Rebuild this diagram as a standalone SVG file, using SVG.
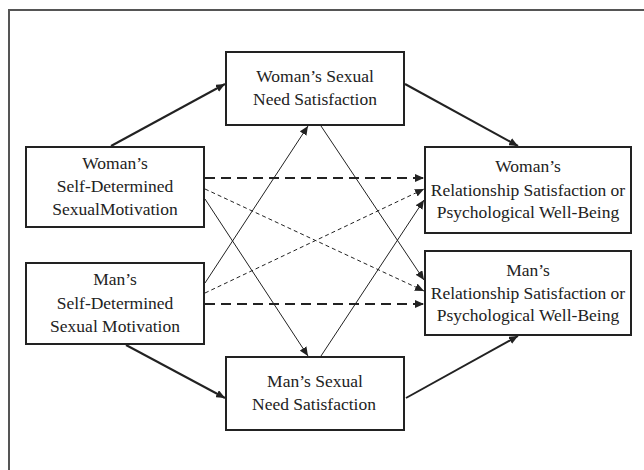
<svg xmlns="http://www.w3.org/2000/svg" width="644" height="470" viewBox="0 0 644 470">
<style>
.box{fill:#fff;stroke:#222;stroke-width:2}
.t{font-family:'Liberation Serif','Times New Roman','Noto Serif','DejaVu Serif',serif;font-size:17.5px;fill:#222;text-anchor:middle}
.thick{stroke:#222;stroke-width:2;fill:none}
.thin{stroke:#222;stroke-width:1;fill:none}
.dthick{stroke:#222;stroke-width:2;fill:none;stroke-dasharray:10 6}
.dthin{stroke:#222;stroke-width:1;fill:none;stroke-dasharray:4 3}
</style>
<defs>
<marker id="ah" markerUnits="userSpaceOnUse" markerWidth="10" markerHeight="8" refX="9" refY="4" orient="auto">
<path d="M0,0 L9,4 L0,8 Z" fill="#222"/>
</marker>
</defs>
<rect x="0" y="0" width="644" height="470" fill="#fff"/>
<path d="M9,470 L9,10 L644,10" fill="none" stroke="#555" stroke-width="2"/>
<g id="connectors">
<line class="thick" x1="111" y1="146" x2="225" y2="84" marker-end="url(#ah)"/>
<line class="thick" x1="405" y1="84" x2="518" y2="146" marker-end="url(#ah)"/>
<line class="thick" x1="126" y1="345" x2="225" y2="398" marker-end="url(#ah)"/>
<line class="thick" x1="406" y1="398" x2="518" y2="336" marker-end="url(#ah)"/>
<line class="dthick" x1="205" y1="178" x2="424" y2="178" marker-end="url(#ah)"/>
<line class="dthick" x1="205" y1="304" x2="424" y2="304" marker-end="url(#ah)"/>
<line class="dthin" x1="205" y1="189" x2="424" y2="291" marker-end="url(#ah)"/>
<line class="dthin" x1="205" y1="293" x2="424" y2="189" marker-end="url(#ah)"/>
<line class="thin" x1="205" y1="199" x2="308" y2="356" marker-end="url(#ah)"/>
<line class="thin" x1="205" y1="283" x2="308" y2="126" marker-end="url(#ah)"/>
<line class="thin" x1="321" y1="126" x2="424" y2="280" marker-end="url(#ah)"/>
<line class="thin" x1="321" y1="356" x2="424" y2="200" marker-end="url(#ah)"/>
</g>
<g id="woman-need">
<rect class="box" x="226" y="52" width="178" height="73"/>
<text class="t" x="315" y="82">Woman’s Sexual</text>
<text class="t" x="315" y="105">Need Satisfaction</text>
</g>
<g id="woman-motivation">
<rect class="box" x="26" y="147" width="178" height="80"/>
<text class="t" x="115" y="169">Woman’s</text>
<text class="t" x="115" y="192">Self-Determined</text>
<text class="t" x="115" y="215">SexualMotivation</text>
</g>
<g id="man-motivation">
<rect class="box" x="26" y="263" width="178" height="81"/>
<text class="t" x="115" y="285">Man’s</text>
<text class="t" x="115" y="308.5">Self-Determined</text>
<text class="t" x="115" y="332">Sexual Motivation</text>
</g>
<g id="man-need">
<rect class="box" x="226" y="357" width="178" height="73"/>
<text class="t" x="315" y="387">Man’s Sexual</text>
<text class="t" x="314" y="410">Need Satisfaction</text>
</g>
<g id="woman-outcome">
<rect class="box" x="425" y="147" width="206" height="86"/>
<text class="t" x="528" y="172">Woman’s</text>
<text class="t" x="528" y="196">Relationship Satisfaction or</text>
<text class="t" x="528" y="218">Psychological Well-Being</text>
</g>
<g id="man-outcome">
<rect class="box" x="425" y="251" width="206" height="84"/>
<text class="t" x="528" y="276">Man’s</text>
<text class="t" x="528" y="299">Relationship Satisfaction or</text>
<text class="t" x="528" y="321">Psychological Well-Being</text>
</g>
</svg>
